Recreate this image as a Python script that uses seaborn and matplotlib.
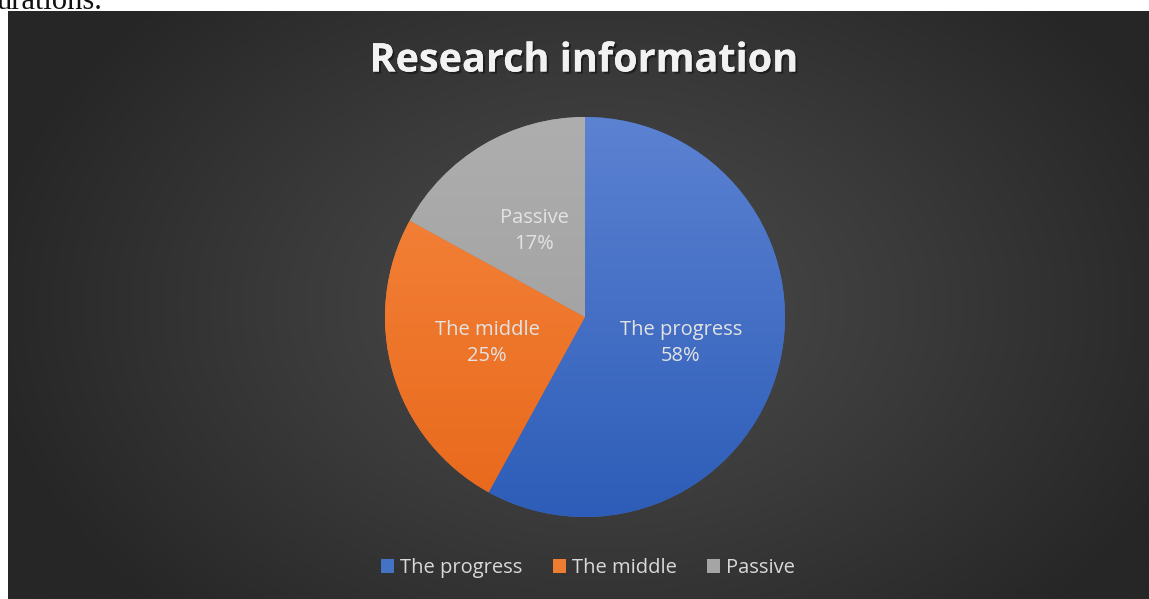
import numpy as np
import matplotlib
matplotlib.use("Agg")
import matplotlib.pyplot as plt
import matplotlib.patheffects as pe
from matplotlib.colors import LinearSegmentedColormap
from matplotlib.patches import Patch
import seaborn as sns

# ---- data ----
categories = ["The progress", "The middle", "Passive"]
values = [58, 25, 17]
title = "Research information"
top_colors = ["#5C82D2", "#F5873F", "#AEAEAE"]
bottom_colors = ["#2D5DB8", "#E8681B", "#9A9A9A"]
legend_colors = ["#4472C4", "#ED7D31", "#A5A5A5"]

sns.set_theme(style="white")
plt.rcParams["font.family"] = ["Open Sans", "DejaVu Sans"]

W, H = 1149, 599
fig = plt.figure(figsize=(W / 100, H / 100), dpi=100)
fig.patch.set_facecolor("white")

# clipped text from the document above the chart
fig.text(-0.003, 1 - 9 / H, "urations.", family="Liberation Serif", fontsize=22,
         color="#111111", va="baseline", ha="left")

# dark radial-gradient background
left_px, top_px = 8, 11
bg = fig.add_axes([left_px / W, 0, (W - left_px) / W, (H - top_px) / H])
ny, nx = 300, 600
yy, xx = np.mgrid[0:ny, 0:nx]
cx, cy = nx * 0.52, ny * 0.50
r = np.sqrt(((xx - cx) / (nx * 0.55)) ** 2 + ((yy - cy) / (ny * 0.75)) ** 2)
r = np.clip(r, 0, 1)
bg_cmap = LinearSegmentedColormap.from_list("bg", ["#4C4C4C", "#3A3A3A", "#262626"])
bg.imshow(r, cmap=bg_cmap, aspect="auto", extent=[0, 1, 0, 1], vmin=0, vmax=1)
bg.set_axis_off()

# title
fig.text(584 / W, 1 - 61 / H, title,
         ha="center", va="center", fontsize=28.5, fontweight="bold", color="#F2F2F2",
         path_effects=[pe.withSimplePatchShadow(offset=(1.5, -1.5), shadow_rgbFace="#111111", alpha=0.6),
                       pe.Normal()])

# pie
cxp, cyp, R = 585, 317, 200
ax = fig.add_axes([(cxp - R) / W, (H - cyp - R) / H, 2 * R / W, 2 * R / H])
wedges, _ = ax.pie(values, startangle=90, counterclock=False,
                   colors=legend_colors, radius=1.0,
                   wedgeprops=dict(linewidth=0))
ax.set_xlim(-1, 1)
ax.set_ylim(-1, 1)
ax.set_aspect("equal")
ax.set_axis_off()

grad = np.linspace(0, 1, 256).reshape(-1, 1)
for w, tc, bc in zip(wedges, top_colors, bottom_colors):
    cm = LinearSegmentedColormap.from_list("g", [bc, tc])
    im = ax.imshow(grad, cmap=cm, extent=[-1, 1, -1, 1], origin="lower",
                   aspect="auto", zorder=w.get_zorder() + 0.1)
    im.set_clip_path(w)

# data labels
label_pos = [(681, 343), (487, 343), (534, 231)]
for (px, py), cat, v in zip(label_pos, categories, values):
    ax.text((px - cxp) / R, (cyp - py) / R, f"{cat}\n{v}%", ha="center", va="center",
            fontsize=14.5, color="#E3E3E3", linespacing=1.45, zorder=10)

# legend
handles = [Patch(facecolor=c, edgecolor="none") for c in legend_colors]
leg = fig.legend(handles, categories, loc="center", bbox_to_anchor=(588 / W, 1 - 568 / H),
                 ncol=3, frameon=False, fontsize=14.5, handlelength=0.65, handleheight=0.65,
                 handletextpad=0.3, columnspacing=1.5, labelcolor="#D9D9D9")

fig.savefig("out.png", dpi=100, facecolor=fig.get_facecolor())
